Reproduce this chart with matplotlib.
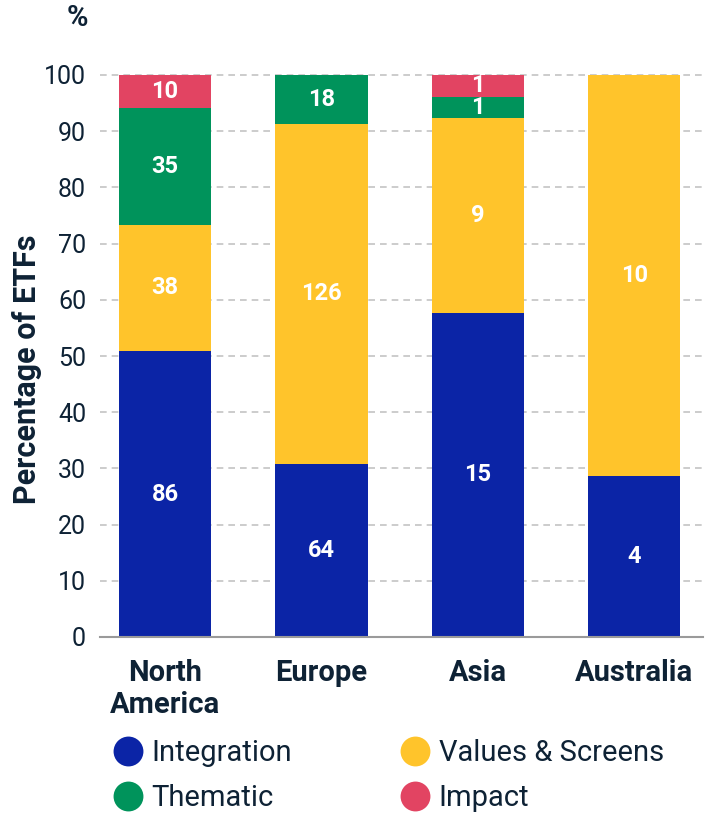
import numpy as np
import matplotlib.pyplot as plt
from matplotlib.lines import Line2D

plt.rcParams['font.family'] = ['Roboto', 'DejaVu Sans']

# 数据：各地区 ETF 数量
regions = ['North\nAmerica', 'Europe', 'Asia', 'Australia']
series = ['Integration', 'Values & Screens', 'Thematic', 'Impact']
integration = [86, 64, 15, 4]
values_screens = [38, 126, 9, 10]
thematic = [35, 18, 1, 0]
impact = [10, 0, 1, 0]

colors = ['#0B24A6', '#FFC42B', '#00935B', '#E24462']
text_c = '#0E2235'

counts = np.array([integration, values_screens, thematic, impact], dtype=float)
pct = counts / counts.sum(axis=0) * 100

fig = plt.figure(figsize=(7.12, 8.16), dpi=100)
ax = fig.add_axes([100 / 712, 179 / 816, 603 / 712, 562 / 816])

x = np.arange(len(regions))
bottom = np.zeros(len(regions))
for k in range(len(series)):
    ax.bar(x, pct[k], 0.59, bottom=bottom, color=colors[k], zorder=3)
    for i in range(len(regions)):
        if counts[k, i] > 0:
            ax.text(x[i], bottom[i] + pct[k, i] / 2, f'{int(counts[k, i])}',
                    ha='center', va='center', color='white', fontsize=17,
                    fontweight='bold', zorder=4)
    bottom += pct[k]

ax.set_xlim(-0.416, 3.44)
ax.set_ylim(0, 100)
ax.set_yticks(range(0, 101, 10))
ax.yaxis.grid(True, linestyle=(0, (4, 3)), color='#C4C4C4', linewidth=1.2, zorder=0)
for g in ax.get_ygridlines():
    g.set_clip_on(False)
for s in ['top', 'right', 'left']:
    ax.spines[s].set_visible(False)
ax.spines['bottom'].set_color('#9A9A9A')
ax.spines['bottom'].set_linewidth(1.5)
ax.spines['bottom'].set_zorder(5)

ax.set_xticks(x)
ax.set_xticklabels(regions, fontsize=21, fontweight='bold', color=text_c, linespacing=1.15)
ax.tick_params(axis='x', length=0, pad=16)
ax.tick_params(axis='y', length=0, pad=10, labelsize=18, labelcolor=text_c)

ax.set_ylabel('Percentage of ETFs', fontsize=22, fontweight='bold', color=text_c)
ax.yaxis.set_label_coords(-0.096, 0.477)
fig.text(77 / 712, 1 - 18 / 816, '%', fontsize=21, fontweight='bold', color=text_c,
         ha='center', va='center')

# 图例
order = [0, 2, 1, 3]
handles = [Line2D([], [], marker='o', linestyle='', markersize=21.5,
                  markerfacecolor=colors[k], markeredgecolor='none') for k in order]
fig.legend(handles, [series[k] for k in order], ncol=2, frameon=False,
           loc='upper left', bbox_to_anchor=(113 / 712, 1 - 739 / 816),
           fontsize=21, labelcolor=text_c, handletextpad=0.3, columnspacing=3.75,
           labelspacing=0.6, handlelength=1.0, borderaxespad=0, borderpad=0)

fig.savefig('out.png', dpi=100)
